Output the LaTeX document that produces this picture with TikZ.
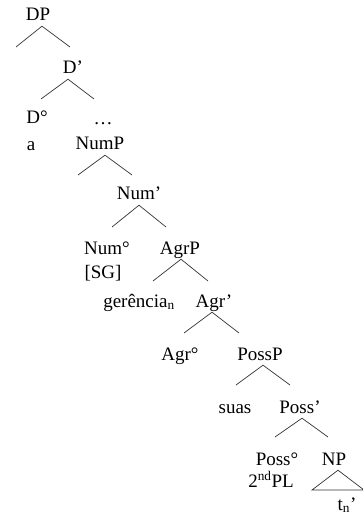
\documentclass[tikz,border=0pt]{standalone}
\usepackage{fontspec}
\setmainfont{Liberation Serif}

\tikzset{
  cat/.style={anchor=base, inner sep=0pt, text depth=0pt, font=\fontsize{19}{21}\selectfont},
  branch/.style={line width=0.7pt, black!80},
}

\begin{document}
\begin{tikzpicture}[x=1pt, y=-1pt]
   \useasboundingbox (0,0) rectangle (362,518);

   % DP and D'
   \node[cat] (DP) at (38,21) {DP};
   \node[cat] (Dbar) at (73,74) {D’};
   \node[cat] (Dzero) at (37,124) {D°};
   \node[cat] (a) at (31,151) {a};
   \node[cat] (dots) at (103,125) {…};

   % NumP
   \node[cat] (NumP) at (100,150) {NumP};
   \node[cat] (Numbar) at (139,200) {Num’};
   \node[cat] (Numzero) at (107,254) {Num°};
   \node[cat] (SG) at (103,278) {[SG]};

   % AgrP
   \node[cat] (AgrP) at (180,254) {AgrP};
   \node[cat] (gerencia) at (139,307) {gerência\textsubscript{n}};
   \node[cat] (Agrbar) at (214,307) {Agr’};
   \node[cat] (Agrzero) at (180,360) {Agr°};

   % PossP
   \node[cat] (PossP) at (260,360) {PossP};
   \node[cat] (suas) at (235,413) {suas};
   \node[cat] (Possbar) at (300,413) {Poss’};
   \node[cat] (Posszero) at (277,465) {Poss°};
   \node[cat] (PL) at (271,487) {2\textsuperscript{nd}PL};
   \node[cat] (NP) at (334,465) {NP};
   \node[cat] (tn) at (347,510) {t\textsubscript{n}’};

   % Branch ends
   \coordinate (DP-l) at (16,47);      \coordinate (DP-r) at (70,47);
   \coordinate (Dbar-l) at (41,99);    \coordinate (Dbar-r) at (94,99);
   \coordinate (NumP-l) at (78,175);   \coordinate (NumP-r) at (132,175);
   \coordinate (Numbar-l) at (112,227); \coordinate (Numbar-r) at (166,227);
   \coordinate (AgrP-l) at (153,281);  \coordinate (AgrP-r) at (208,281);
   \coordinate (Agrbar-l) at (184,333); \coordinate (Agrbar-r) at (239,333);
   \coordinate (PossP-l) at (236,385); \coordinate (PossP-r) at (290,385);
   \coordinate (Possbar-l) at (275,437); \coordinate (Possbar-r) at (328,437);
   \coordinate (NP-l) at (312,490);    \coordinate (NP-r) at (364,490);

   % Branches
   \draw[branch] (DP-l) -- ([xshift=4pt,yshift=-5pt]DP.south) -- (DP-r);
   \draw[branch] (Dbar-l) -- ([xshift=-5pt,yshift=-5pt]Dbar.south) -- (Dbar-r);
   \draw[branch] (NumP-l) -- ([xshift=5pt,yshift=-5pt]NumP.south) -- (NumP-r);
   \draw[branch] (Numbar-l) -- ([yshift=-5pt]Numbar.south) -- (Numbar-r);
   \draw[branch] (AgrP-l) -- ([xshift=1pt,yshift=-5pt]AgrP.south) -- (AgrP-r);
   \draw[branch] (Agrbar-l) -- ([xshift=-2pt,yshift=-5pt]Agrbar.south) -- (Agrbar-r);
   \draw[branch] (PossP-l) -- ([xshift=3pt,yshift=-5pt]PossP.south) -- (PossP-r);
   \draw[branch] (Possbar-l) -- ([xshift=2pt,yshift=-5pt]Possbar.south) -- (Possbar-r);
   \draw[branch] (NP-l) -- ([xshift=4pt,yshift=-5pt]NP.south) -- (NP-r) -- cycle;
\end{tikzpicture}
\end{document}
